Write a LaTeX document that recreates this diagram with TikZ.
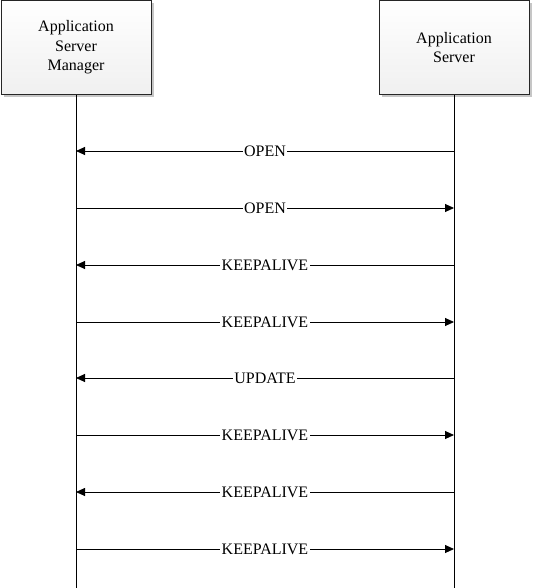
\documentclass[tikz,border=0pt]{standalone}
\usepackage{fontspec}
\setmainfont{Liberation Serif}
\usetikzlibrary{arrows.meta,shadows}
\begin{document}
\begin{tikzpicture}[x=1pt,y=-1pt,
  actor/.style={draw=black!85, line width=0.8pt, minimum width=150pt, minimum height=94pt,
    top color=white, middle color=gray!6, bottom color=gray!12, align=center,
    font=\fontsize{16}{19.5}\selectfont,
    drop shadow={shadow xshift=2.5pt, shadow yshift=-2.5pt, fill=gray!45, opacity=1}},
  life/.style={line width=0.9pt, black},
  msg/.style={line width=0.9pt, -{Triangle[length=9pt,width=8pt]}},
  lbl/.style={fill=white, inner sep=1.5pt, font=\fontsize{16}{18}\selectfont}]
\useasboundingbox (0,0) rectangle (532,588);
\node[actor] (asm) at (76,47.5) {Application\\Server\\Manager};
\node[actor] (as) at (454,47.5) {Application\\Server};
\coordinate (asmEnd) at (76,588);
\coordinate (asEnd) at (454,588);
\draw[life] (asm.south) -- (asmEnd);
\draw[life] (as.south) -- (asEnd);
\foreach \y [count=\i] in {151,208,265,322,378,435,492,549}{
  \coordinate (L\i) at (76,\y);
  \coordinate (R\i) at (454,\y);
}
\draw[msg] (R1) -- node[lbl] {OPEN} (L1);
\draw[msg] (L2) -- node[lbl] {OPEN} (R2);
\draw[msg] (R3) -- node[lbl] {KEEPALIVE} (L3);
\draw[msg] (L4) -- node[lbl] {KEEPALIVE} (R4);
\draw[msg] (R5) -- node[lbl] {UPDATE} (L5);
\draw[msg] (L6) -- node[lbl] {KEEPALIVE} (R6);
\draw[msg] (R7) -- node[lbl] {KEEPALIVE} (L7);
\draw[msg] (L8) -- node[lbl] {KEEPALIVE} (R8);
\end{tikzpicture}
\end{document}
